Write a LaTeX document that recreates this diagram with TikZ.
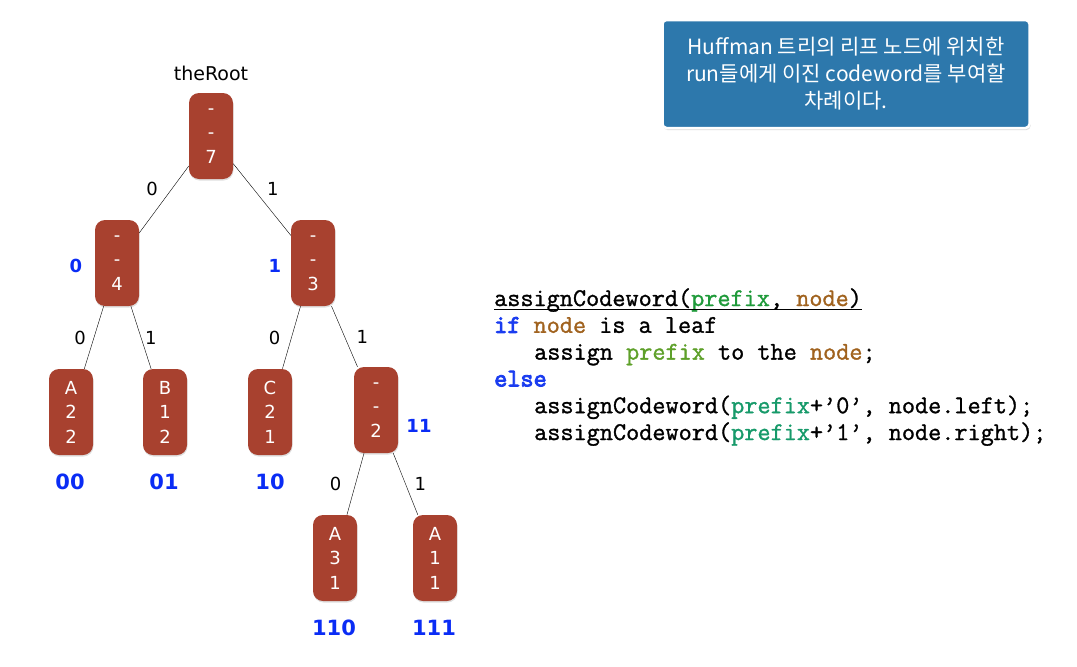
\documentclass[tikz,border=0pt]{standalone}
\usepackage{fontspec}
\usepackage{tikz}
\usetikzlibrary{shapes,positioning,shadows}
\newfontfamily\dejavu{DejaVu Sans}
\newfontfamily\korean{Noto Sans CJK KR}
\newfontfamily\codefont[FakeBold=1.2]{Latin Modern Mono}
\newfontfamily\codekey[FakeBold=3.5]{Latin Modern Mono}
\definecolor{brick}{HTML}{A8412F}
\definecolor{codeblue}{HTML}{0A2CF5}
\definecolor{calloutblue}{HTML}{2D78AC}
\definecolor{kwblue}{HTML}{1A3CF0}
\definecolor{argbrown}{HTML}{A0621E}
\definecolor{hdgreen}{HTML}{1F9A3A}
\definecolor{litegreen}{HTML}{5EA02A}
\definecolor{tealgreen}{HTML}{179A6A}

\begin{document}
\begin{tikzpicture}[x=1pt,y=-1pt,
    runnode/.style={rectangle, rounded corners=10pt, fill=brick, text=white,
        minimum width=44pt, minimum height=86pt, inner sep=0pt, align=center,
        drop shadow={opacity=0.25, shadow xshift=0.5pt, shadow yshift=-1.5pt},
        font=\dejavu\fontsize{18}{24.5}\selectfont},
    bitlabel/.style={font=\dejavu\fontsize{18}{20}\selectfont, inner sep=2pt},
    codeword/.style={text=codeblue, font=\dejavu\bfseries\fontsize{21}{24}\selectfont},
    prefixword/.style={text=codeblue, font=\dejavu\bfseries\fontsize{18}{22}\selectfont},
    codeline/.style={anchor=base west, inner sep=0pt, font=\codefont\fontsize{25.5}{26.8}\selectfont}]
        \useasboundingbox (0,0) rectangle (1077,667);

        \node[font=\dejavu\fontsize{19}{22}\selectfont] (rootname) at (211, 73) {theRoot};
        \node[runnode] (r7) at (211, 136) {-\\-\\7};
        \node[runnode] (r4) at (117, 263) {-\\-\\4};
        \node[runnode] (r3) at (313, 263) {-\\-\\3};
        \node[runnode] (a22) at (71, 412) {A\\2\\2};
        \node[runnode] (b12) at (165, 412) {B\\1\\2};
        \node[runnode] (c21) at (270, 412) {C\\2\\1};
        \node[runnode] (r2) at (376, 410) {-\\-\\2};
        \node[runnode] (a31) at (335, 558) {A\\3\\1};
        \node[runnode] (a11) at (435, 558) {A\\1\\1};

        \draw (r7) -- node[bitlabel, above left=2pt and 4pt] {0} (r4);
        \draw (r7) -- node[bitlabel, above right=2pt and 3pt] {1} (r3);
        \draw (r4) -- node[bitlabel, left=6pt] {0} (a22);
        \draw (r4) -- node[bitlabel, right=2pt] {1} (b12);
        \draw (r3) -- node[bitlabel, left=9pt] {0} (c21);
        \draw (r3) -- node[bitlabel, right=10pt] {1} (r2);
        \draw (r2) -- node[bitlabel, left=12pt] {0} (a31);
        \draw (r2) -- node[bitlabel, right=7pt] {1} (a11);

        % prefixes of the inner nodes
        \node[prefixword] (p4) at (76, 266) {0};
        \node[prefixword] (p3) at (275, 266) {1};
        \node[prefixword] (p2) at (419, 426) {11};

        % codewords of the leaves
        \node[codeword] (c00) at (70, 482) {00};
        \node[codeword] (c01) at (164, 482) {01};
        \node[codeword] (c10) at (270, 482) {10};
        \node[codeword] (c110) at (334, 628) {110};
        \node[codeword] (c111) at (434, 628) {111};

        \node[rectangle, rounded corners=4pt, fill=calloutblue, draw=white, line width=2.5pt,
            drop shadow={opacity=0.3, shadow xshift=1pt, shadow yshift=-2pt},
            minimum width=367pt, minimum height=108pt, align=center, text=white,
            font=\korean\fontsize{21}{27}\selectfont] (note) at (846, 74)
            {Huffman 트리의 리프 노드에 위치한\\run들에게 이진 codeword를 부여할\\차례이다.};

        \node[codeline] (code1) at (494, 306) {assignCodeword(\textcolor{hdgreen}{prefix}, \textcolor{argbrown}{node})};
        \draw[line width=1pt] ([yshift=-3pt]code1.base west) -- ([yshift=-3pt]code1.base east);
        \node[codeline] (code2) at (494, 332.8) {\textcolor{kwblue}{\codekey if} \textcolor{argbrown}{node} is a leaf};
        \node[codeline] (code3) at (534, 359.6) {assign \textcolor{litegreen}{prefix} to the \textcolor{argbrown}{node};};
        \node[codeline] (code4) at (494, 386.4) {\textcolor{kwblue}{\codekey else}};
        \node[codeline] (code5) at (534, 413.2) {assignCodeword(\textcolor{tealgreen}{prefix}+’0’, node.left);};
        \node[codeline] (code6) at (534, 440) {assignCodeword(\textcolor{tealgreen}{prefix}+’1’, node.right);};
    \end{tikzpicture}
\end{document}
